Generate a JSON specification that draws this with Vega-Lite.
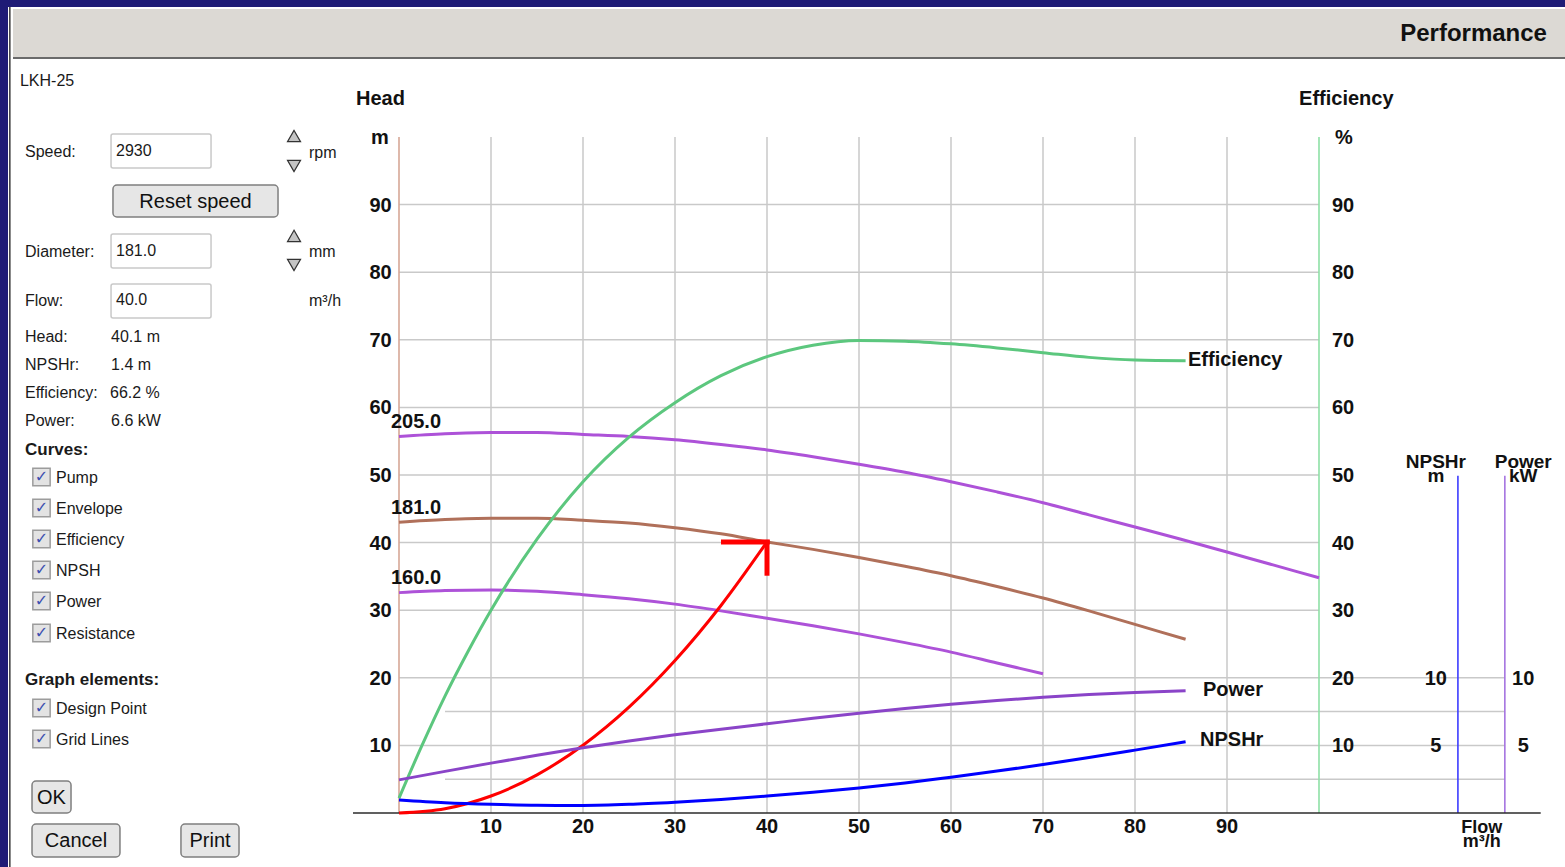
{
"$schema":"https://vega.github.io/schema/vega-lite/v6.json",
"width":920,"height":676,
"autosize":{"type":"none"},
"padding":{"left":399,"top":137,"right":246,"bottom":54},
"background":"#ffffff",
"config":{"view":{"stroke":null},"text":{"font":"Liberation Sans"}},
"datasets":{
"navy":[{"q":-45,"q2":130,"h":122,"h2":119.23},{"q":-45,"q2":-42.5,"h":122,"h2":-10}],
"titleband":[{"q":-41.96,"q2":130,"h":118.93,"h2":111.83}],
"framelines":[{"q":-42.3,"h":119.23,"q2":-42.3,"h2":-10},{"q":-41.96,"h":111.69,"q2":130,"h2":111.69}],
"grid":[
{"q":10,"h":0,"q2":10,"h2":100},{"q":20,"h":0,"q2":20,"h2":100},{"q":30,"h":0,"q2":30,"h2":100},{"q":40,"h":0,"q2":40,"h2":100},{"q":50,"h":0,"q2":50,"h2":100},{"q":60,"h":0,"q2":60,"h2":100},{"q":70,"h":0,"q2":70,"h2":100},{"q":80,"h":0,"q2":80,"h2":100},{"q":90,"h":0,"q2":90,"h2":100},
{"q":0,"h":10,"q2":100,"h2":10},{"q":0,"h":20,"q2":100,"h2":20},{"q":0,"h":30,"q2":100,"h2":30},{"q":0,"h":40,"q2":100,"h2":40},{"q":0,"h":50,"q2":100,"h2":50},{"q":0,"h":60,"q2":100,"h2":60},{"q":0,"h":70,"q2":100,"h2":70},{"q":0,"h":80,"q2":100,"h2":80},{"q":0,"h":90,"q2":100,"h2":90},
{"q":5,"h":5,"q2":120.2,"h2":5},{"q":5,"h":15,"q2":120.2,"h2":15},{"q":100,"h":10,"q2":120.2,"h2":10},{"q":100,"h":20,"q2":120.2,"h2":20}],
"axislines":[
{"q":0,"h":0,"q2":0,"h2":100,"axis":"head"},
{"q":100,"h":0,"q2":100,"h2":100,"axis":"eff"},
{"q":115.1,"h":0,"q2":115.1,"h2":49.9,"axis":"npsh"},
{"q":120.2,"h":0,"q2":120.2,"h2":49.9,"axis":"power"},
{"q":-5,"h":0,"q2":124.1,"h2":0,"axis":"base"}],
"curves":[
{"series":"205.0","q":0,"h":55.7},{"series":"205.0","q":5,"h":56.1},{"series":"205.0","q":10,"h":56.3},{"series":"205.0","q":15,"h":56.3},{"series":"205.0","q":20,"h":56.0},{"series":"205.0","q":25,"h":55.7},{"series":"205.0","q":30,"h":55.2},{"series":"205.0","q":35,"h":54.5},{"series":"205.0","q":40,"h":53.7},{"series":"205.0","q":45,"h":52.7},{"series":"205.0","q":50,"h":51.6},{"series":"205.0","q":55,"h":50.4},{"series":"205.0","q":60,"h":49.0},{"series":"205.0","q":65,"h":47.5},{"series":"205.0","q":70,"h":45.9},{"series":"205.0","q":75,"h":44.1},{"series":"205.0","q":80,"h":42.3},{"series":"205.0","q":85,"h":40.5},{"series":"205.0","q":90,"h":38.6},{"series":"205.0","q":95,"h":36.7},{"series":"205.0","q":100,"h":34.8},
{"series":"181.0","q":0,"h":43.0},{"series":"181.0","q":5,"h":43.4},{"series":"181.0","q":10,"h":43.6},{"series":"181.0","q":15,"h":43.6},{"series":"181.0","q":20,"h":43.3},{"series":"181.0","q":25,"h":42.9},{"series":"181.0","q":30,"h":42.2},{"series":"181.0","q":35,"h":41.3},{"series":"181.0","q":40,"h":40.1},{"series":"181.0","q":45,"h":39.0},{"series":"181.0","q":50,"h":37.8},{"series":"181.0","q":55,"h":36.5},{"series":"181.0","q":60,"h":35.1},{"series":"181.0","q":65,"h":33.5},{"series":"181.0","q":70,"h":31.8},{"series":"181.0","q":75,"h":29.9},{"series":"181.0","q":80,"h":27.9},{"series":"181.0","q":85.5,"h":25.7},
{"series":"160.0","q":0,"h":32.6},{"series":"160.0","q":5,"h":32.9},{"series":"160.0","q":10,"h":33.0},{"series":"160.0","q":15,"h":32.8},{"series":"160.0","q":20,"h":32.3},{"series":"160.0","q":25,"h":31.7},{"series":"160.0","q":30,"h":30.9},{"series":"160.0","q":35,"h":29.9},{"series":"160.0","q":40,"h":28.8},{"series":"160.0","q":45,"h":27.7},{"series":"160.0","q":50,"h":26.5},{"series":"160.0","q":55,"h":25.2},{"series":"160.0","q":60,"h":23.8},{"series":"160.0","q":65,"h":22.2},{"series":"160.0","q":70,"h":20.6},
{"series":"Efficiency","q":0,"h":2.2},{"series":"Efficiency","q":2.5,"h":10.0},{"series":"Efficiency","q":5,"h":17.3},{"series":"Efficiency","q":7.5,"h":23.9},{"series":"Efficiency","q":10,"h":30},{"series":"Efficiency","q":15,"h":40.5},{"series":"Efficiency","q":20,"h":49},{"series":"Efficiency","q":25,"h":55.6},{"series":"Efficiency","q":30,"h":60.7},{"series":"Efficiency","q":35,"h":64.7},{"series":"Efficiency","q":40,"h":67.5},{"series":"Efficiency","q":45,"h":69.2},{"series":"Efficiency","q":50,"h":69.9},{"series":"Efficiency","q":55,"h":69.8},{"series":"Efficiency","q":60,"h":69.4},{"series":"Efficiency","q":65,"h":68.8},{"series":"Efficiency","q":70,"h":68.1},{"series":"Efficiency","q":75,"h":67.4},{"series":"Efficiency","q":80,"h":67.0},{"series":"Efficiency","q":85.5,"h":66.9},
{"series":"Resistance","q":0,"h":0},{"series":"Resistance","q":5,"h":0.63},{"series":"Resistance","q":10,"h":2.51},{"series":"Resistance","q":15,"h":5.64},{"series":"Resistance","q":20,"h":10.03},{"series":"Resistance","q":25,"h":15.66},{"series":"Resistance","q":30,"h":22.56},{"series":"Resistance","q":35,"h":30.7},{"series":"Resistance","q":40,"h":40.1}],
"power":[{"q":0,"kw":2.45},{"q":5,"kw":3.08},{"q":10,"kw":3.69},{"q":15,"kw":4.27},{"q":20,"kw":4.82},{"q":25,"kw":5.32},{"q":30,"kw":5.78},{"q":35,"kw":6.2},{"q":40,"kw":6.6},{"q":45,"kw":7.0},{"q":50,"kw":7.38},{"q":55,"kw":7.73},{"q":60,"kw":8.04},{"q":65,"kw":8.32},{"q":70,"kw":8.56},{"q":75,"kw":8.76},{"q":80,"kw":8.92},{"q":85.5,"kw":9.05}],
"npsh":[{"q":0,"m":0.96},{"q":5,"m":0.76},{"q":10,"m":0.64},{"q":15,"m":0.57},{"q":20,"m":0.56},{"q":25,"m":0.64},{"q":30,"m":0.8},{"q":35,"m":1.0},{"q":40,"m":1.25},{"q":45,"m":1.53},{"q":50,"m":1.85},{"q":55,"m":2.22},{"q":60,"m":2.65},{"q":65,"m":3.1},{"q":70,"m":3.58},{"q":75,"m":4.1},{"q":80,"m":4.65},{"q":85.5,"m":5.27}],
"design":[{"q":35,"h":40.1,"q2":40.3,"h2":40.1},{"q":40,"h":40.4,"q2":40,"h2":35.1}],
"ticks_left":[{"q":-0.8,"h":10,"label":"10"},{"q":-0.8,"h":20,"label":"20"},{"q":-0.8,"h":30,"label":"30"},{"q":-0.8,"h":40,"label":"40"},{"q":-0.8,"h":50,"label":"50"},{"q":-0.8,"h":60,"label":"60"},{"q":-0.8,"h":70,"label":"70"},{"q":-0.8,"h":80,"label":"80"},{"q":-0.8,"h":90,"label":"90"}],
"ticks_right":[{"q":101.4,"h":10,"label":"10"},{"q":101.4,"h":20,"label":"20"},{"q":101.4,"h":30,"label":"30"},{"q":101.4,"h":40,"label":"40"},{"q":101.4,"h":50,"label":"50"},{"q":101.4,"h":60,"label":"60"},{"q":101.4,"h":70,"label":"70"},{"q":101.4,"h":80,"label":"80"},{"q":101.4,"h":90,"label":"90"}],
"centered":[
{"q":10,"h":-1.92,"label":"10"},{"q":20,"h":-1.92,"label":"20"},{"q":30,"h":-1.92,"label":"30"},{"q":40,"h":-1.92,"label":"40"},{"q":50,"h":-1.92,"label":"50"},{"q":60,"h":-1.92,"label":"60"},{"q":70,"h":-1.92,"label":"70"},{"q":80,"h":-1.92,"label":"80"},{"q":90,"h":-1.92,"label":"90"},
{"q":-2.07,"h":100,"label":"m"},{"q":102.7,"h":100,"label":"%"},
{"q":112.7,"h":20,"label":"10"},{"q":112.7,"h":10,"label":"5"},
{"q":122.2,"h":20,"label":"10"},{"q":122.2,"h":10,"label":"5"}],
"stacked":[
{"q":112.7,"h":52.0,"label":"NPSHr"},{"q":112.7,"h":50.0,"label":"m"},
{"q":122.2,"h":52.0,"label":"Power"},{"q":122.2,"h":50.0,"label":"kW"}],
"flowlabel":[{"q":117.7,"h":-2.2,"label":"Flow"},{"q":117.7,"h":-4.3,"label":"m³/h"}],
"leftlabels":[
{"q":-4.67,"h":105.7,"label":"Head"},{"q":97.83,"h":105.7,"label":"Efficiency"},
{"q":-0.87,"h":57.99,"label":"205.0"},{"q":-0.87,"h":45.27,"label":"181.0"},{"q":-0.87,"h":34.9,"label":"160.0"},
{"q":85.76,"h":67.16,"label":"Efficiency"},{"q":87.39,"h":18.34,"label":"Power"},{"q":87.07,"h":10.95,"label":"NPSHr"}],
"inputs":[{"q":-31.3,"q2":-20.43,"h":100.44,"h2":95.41},{"q":-31.3,"q2":-20.43,"h":85.65,"h2":80.62},{"q":-31.3,"q2":-20.43,"h":78.25,"h2":73.22}],
"buttons":[{"q":-31.09,"q2":-13.15,"h":92.9,"h2":88.17},{"q":-39.89,"q2":-35.65,"h":4.73,"h2":0},{"q":-39.89,"q2":-30.33,"h":-1.63,"h2":-6.51},{"q":-23.7,"q2":-17.39,"h":-1.63,"h2":-6.51}],
"buttontext":[{"q":-22.12,"h":90.6,"label":"Reset speed"},{"q":-37.77,"h":2.3,"label":"OK"},{"q":-35.11,"h":-4.0,"label":"Cancel"},{"q":-20.54,"h":-4.0,"label":"Print"}],
"arrows":[{"q":-11.41,"h":100.15,"dir":"up"},{"q":-11.41,"h":95.71,"dir":"down"},{"q":-11.41,"h":85.36,"dir":"up"},{"q":-11.41,"h":81.07,"dir":"down"}],
"checks":[{"q":-38.86,"h":49.7},{"q":-38.86,"h":45.12},{"q":-38.86,"h":40.53},{"q":-38.86,"h":35.95},{"q":-38.86,"h":31.36},{"q":-38.86,"h":26.63},{"q":-38.86,"h":15.53},{"q":-38.86,"h":10.95}],
"paneltext":[
{"q":-41.2,"h":108.43,"label":"LKH-25"},
{"q":-40.65,"h":97.93,"label":"Speed:"},{"q":-30.76,"h":98.08,"label":"2930"},{"q":-9.78,"h":97.78,"label":"rpm"},
{"q":-40.65,"h":83.14,"label":"Diameter:"},{"q":-30.76,"h":83.28,"label":"181.0"},{"q":-9.78,"h":83.14,"label":"mm"},
{"q":-40.65,"h":75.89,"label":"Flow:"},{"q":-30.76,"h":76.04,"label":"40.0"},{"q":-9.78,"h":75.89,"label":"m³/h"},
{"q":-40.65,"h":70.56,"label":"Head:"},{"q":-31.3,"h":70.56,"label":"40.1 m"},
{"q":-40.65,"h":66.42,"label":"NPSHr:"},{"q":-31.3,"h":66.42,"label":"1.4 m"},
{"q":-40.65,"h":62.28,"label":"Efficiency:"},{"q":-31.41,"h":62.28,"label":"66.2 %"},
{"q":-40.65,"h":58.14,"label":"Power:"},{"q":-31.3,"h":58.14,"label":"6.6 kW"},
{"q":-37.28,"h":49.7,"label":"Pump"},{"q":-37.28,"h":45.12,"label":"Envelope"},{"q":-37.28,"h":40.53,"label":"Efficiency"},{"q":-37.28,"h":35.95,"label":"NPSH"},{"q":-37.28,"h":31.36,"label":"Power"},{"q":-37.28,"h":26.63,"label":"Resistance"},
{"q":-37.28,"h":15.53,"label":"Design Point"},{"q":-37.28,"h":10.95,"label":"Grid Lines"}],
"panelbold":[{"q":-40.65,"h":53.85,"label":"Curves:"},{"q":-40.65,"h":19.82,"label":"Graph elements:"}],
"title":[{"q":124.78,"h":115.38,"label":"Performance"}]
},
"encoding":{
"x":{"field":"q","type":"quantitative","scale":{"domain":[0,100],"nice":false,"zero":false},"axis":null},
"y":{"field":"h","type":"quantitative","scale":{"domain":[0,100],"nice":false,"zero":false},"axis":null}
},
"resolve":{"scale":{"y":"independent","color":"independent"}},
"layer":[
{"data":{"name":"navy"},"mark":{"type":"rect","color":"#1f1b76"},"encoding":{"x2":{"field":"q2"},"y2":{"field":"h2"}}},
{"data":{"name":"titleband"},"mark":{"type":"rect","color":"#dcd9d4"},"encoding":{"x2":{"field":"q2"},"y2":{"field":"h2"}}},
{"data":{"name":"framelines"},"mark":{"type":"rule","color":"#3a3a3a","strokeWidth":1.5},"encoding":{"x2":{"field":"q2"},"y2":{"field":"h2"}}},
{"data":{"name":"grid"},"mark":{"type":"rule","color":"#c9c9c9","strokeWidth":1.5},"encoding":{"x2":{"field":"q2"},"y2":{"field":"h2"}}},
{"data":{"name":"axislines"},"mark":{"type":"rule","strokeWidth":1.6},"encoding":{"x2":{"field":"q2"},"y2":{"field":"h2"},"color":{"field":"axis","type":"nominal","scale":{"domain":["head","eff","npsh","power","base"],"range":["#d6a796","#8ee0a6","#3c3cff","#a574e0","#2b2b2b"]},"legend":null}}},
{"data":{"name":"curves"},"mark":{"type":"line","strokeWidth":3,"interpolate":"monotone"},"encoding":{"color":{"field":"series","type":"nominal","scale":{"domain":["205.0","181.0","160.0","Efficiency","Resistance"],"range":["#ad52d8","#b0705a","#ad52d8","#5cc77e","#ff0000"]},"legend":null}}},
{"data":{"name":"power"},"mark":{"type":"line","strokeWidth":3,"interpolate":"monotone","color":"#8a44c8"},"encoding":{"y":{"field":"kw","type":"quantitative","scale":{"domain":[0,50],"nice":false,"zero":false},"axis":null}}},
{"data":{"name":"npsh"},"mark":{"type":"line","strokeWidth":3,"interpolate":"monotone","color":"#0000ff"},"encoding":{"y":{"field":"m","type":"quantitative","scale":{"domain":[0,50],"nice":false,"zero":false},"axis":null}}},
{"data":{"name":"design"},"mark":{"type":"rule","color":"#ff0000","strokeWidth":5},"encoding":{"x2":{"field":"q2"},"y2":{"field":"h2"}}},
{"data":{"name":"ticks_left"},"mark":{"type":"text","align":"right","baseline":"middle","dy":1,"fontSize":20,"fontWeight":"bold","color":"#111111"},"encoding":{"text":{"field":"label","type":"nominal"}}},
{"data":{"name":"ticks_right"},"mark":{"type":"text","align":"left","baseline":"middle","dy":1,"fontSize":20,"fontWeight":"bold","color":"#111111"},"encoding":{"text":{"field":"label","type":"nominal"}}},
{"data":{"name":"centered"},"mark":{"type":"text","align":"center","baseline":"middle","dy":1,"fontSize":20,"fontWeight":"bold","color":"#111111"},"encoding":{"text":{"field":"label","type":"nominal"}}},
{"data":{"name":"stacked"},"mark":{"type":"text","align":"center","baseline":"middle","dy":1,"fontSize":19,"fontWeight":"bold","color":"#111111"},"encoding":{"text":{"field":"label","type":"nominal"}}},
{"data":{"name":"flowlabel"},"mark":{"type":"text","align":"center","baseline":"middle","fontSize":18,"fontWeight":"bold","color":"#111111"},"encoding":{"text":{"field":"label","type":"nominal"}}},
{"data":{"name":"leftlabels"},"mark":{"type":"text","align":"left","baseline":"middle","dy":1,"fontSize":20,"fontWeight":"bold","color":"#111111"},"encoding":{"text":{"field":"label","type":"nominal"}}},
{"data":{"name":"inputs"},"mark":{"type":"rect","fill":"#ffffff","stroke":"#c9c9c9","strokeWidth":1.5,"cornerRadius":2},"encoding":{"x2":{"field":"q2"},"y2":{"field":"h2"}}},
{"data":{"name":"buttons"},"mark":{"type":"rect","fill":"#e6e6e6","stroke":"#7f7f7f","strokeWidth":1.5,"cornerRadius":4},"encoding":{"x2":{"field":"q2"},"y2":{"field":"h2"}}},
{"data":{"name":"buttontext"},"mark":{"type":"text","align":"center","baseline":"middle","dy":1,"fontSize":20,"color":"#111111"},"encoding":{"text":{"field":"label","type":"nominal"}}},
{"data":{"name":"arrows"},"mark":{"type":"point","filled":true,"size":170,"fill":"#c4c4c4","stroke":"#333333","strokeWidth":1.2,"opacity":1},"encoding":{"shape":{"field":"dir","type":"nominal","scale":{"domain":["up","down"],"range":["triangle-up","triangle-down"]},"legend":null}}},
{"data":{"name":"checks"},"mark":{"type":"point","shape":"square","filled":true,"size":300,"fill":"#e3e3e3","stroke":"#9c9c9c","strokeWidth":1.5,"opacity":1}},
{"data":{"name":"checks"},"mark":{"type":"text","text":"✓","font":"DejaVu Sans","fontSize":16,"fontWeight":"bold","align":"center","baseline":"middle","color":"#3d50b0"}},
{"data":{"name":"paneltext"},"mark":{"type":"text","align":"left","baseline":"middle","dy":1,"fontSize":16,"color":"#1a1a1a"},"encoding":{"text":{"field":"label","type":"nominal"}}},
{"data":{"name":"panelbold"},"mark":{"type":"text","align":"left","baseline":"middle","dy":1,"fontSize":17,"fontWeight":"bold","color":"#1a1a1a"},"encoding":{"text":{"field":"label","type":"nominal"}}},
{"data":{"name":"title"},"mark":{"type":"text","align":"right","baseline":"middle","dy":1,"fontSize":24,"fontWeight":"bold","color":"#111111"},"encoding":{"text":{"field":"label","type":"nominal"}}}
]
}
